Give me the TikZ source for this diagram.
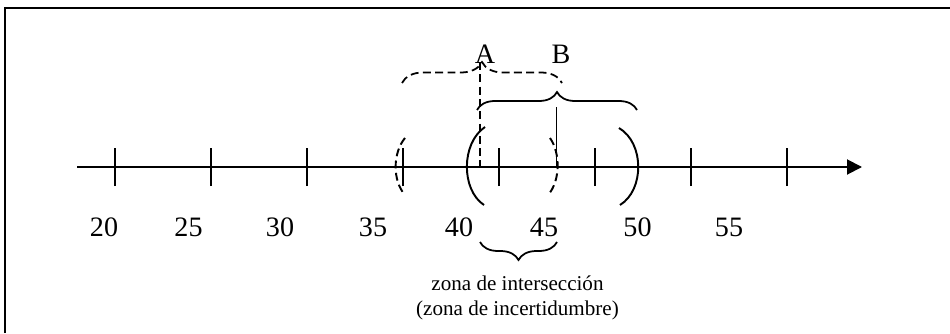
\documentclass[tikz,border=0pt]{standalone}
\usepackage{fontspec}
\setmainfont{Liberation Serif}
\usetikzlibrary{arrows.meta,decorations.pathreplacing}

\begin{document}
\begin{tikzpicture}[
  paren/.style={line width=1.1pt},
  dashparen/.style={line width=1.1pt, dash pattern=on 4.5pt off 2.5pt},
  brc/.style={line width=1pt, decorate, decoration={brace, amplitude=#1}},
  num/.style={font=\fontsize{16}{19}\selectfont, inner sep=0pt}
]
  \useasboundingbox (0,0) rectangle (19,6.66);
  % Frame (only top and left edges are visible)
  \draw[line width=0.9pt] (0.1,0) -- (0.1,6.5) -- (19,6.5);

  % Number line
  \coordinate (start) at (1.54,3.32);
  \coordinate (end) at (17.24,3.32);
  \draw[line width=1.1pt, -{Triangle[length=0.3cm, width=0.3cm]}] (start) -- (end);
  \foreach \i in {0,...,7}
    \draw[line width=0.9pt] ({2.3+1.92*\i},2.94) -- ({2.3+1.92*\i},3.70); % ticks

  % Values under the line
  \foreach \v/\x in {20/2.08, 25/3.77, 30/5.60, 35/7.46, 40/9.18, 45/10.88, 50/12.75, 55/14.58}
    \node[num] (n\v) at (\x,2.12) {\v};

  % Interval A (dashed)
  \draw[dashparen] (8.10,3.90) .. controls (7.85,3.60) and (7.85,3.04) .. (8.10,2.76);
  \draw[dashparen] (11.0,3.90) .. controls (11.21,3.60) and (11.21,3.04) .. (10.96,2.76);
  \draw[brc=0.42cm, dash pattern=on 4.5pt off 2.5pt] (8.04,5.0) -- (11.24,5.0);
  \coordinate (tipA) at (9.60,5.42);
  \draw[line width=1pt, dash pattern=on 4.5pt off 2.5pt] (tipA) -- (9.60,3.32);
  \node[num] (A) at (9.70,5.58) {A};

  % Interval B (solid)
  \draw[paren] (9.70,4.12) .. controls (9.22,3.80) and (9.22,2.86) .. (9.68,2.56);
  \draw[paren] (12.38,4.10) .. controls (12.89,3.80) and (12.89,2.86) .. (12.40,2.56);
  \draw[brc=0.36cm] (9.54,4.46) -- (12.74,4.46);
  \coordinate (tipB) at (11.13,4.52);
  \draw[line width=1pt] (tipB) -- (11.13,3.32);
  \node[num] (B) at (11.22,5.58) {B};

  % Overlap zone
  \draw[brc=0.36cm] (11.14,1.82) -- (9.60,1.82);
  \node[align=center, font=\fontsize{12}{14.2}\selectfont] (zone) at (10.35,0.71)
    {zona de intersección\\(zona de incertidumbre)};
\end{tikzpicture}
\end{document}
